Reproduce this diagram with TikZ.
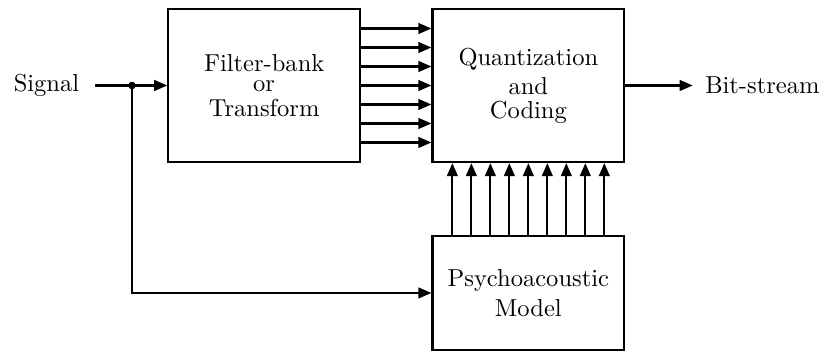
\documentclass[tikz,border=0pt]{standalone}
\usetikzlibrary{arrows.meta}
\begin{document}
\begin{tikzpicture}[line width=0.9pt, >={Triangle[length=5.5pt, width=4.5pt]},
    font=\fontsize{10.3pt}{12.4pt}\selectfont,
    block/.style={draw, align=center, minimum width=2.83cm, minimum height=2.26cm, inner sep=0pt}]
    \useasboundingbox (0, 0) rectangle (12.15, -5.2);

    \node[block] (fb) at (3.9, -1.262) {Filter-bank\\[-3.8pt]or\\[-2pt]Transform};
    \node[block] (qc) at (7.8, -1.262) {Quantization\\and\\[-2.6pt]Coding};
    \node[block, minimum height=1.68cm] (pm) at (7.8, -4.325) {Psychoacoustic\\Model};

    \node[inner xsep=6.4pt] (sig) at (0.686, -1.262) {Signal};
    \node[inner xsep=4.8pt] (bits) at (11.255, -1.262) {Bit-stream};
    \coordinate (split) at (1.948, -1.262);

    \draw[->] (sig.east) -- (fb.west);
    \fill (split) circle (1.6pt);
    \draw[->] (split) |- (pm.west);
    \draw[->] (qc.east) -- (bits.west);

    \foreach \i in {-3,...,3}
      \draw[->] ([yshift=\i*0.2804cm]fb.east) -- ([yshift=\i*0.2804cm]qc.west);
    \foreach \i in {-4,...,4}
      \draw[->] ([xshift=\i*0.2804cm]pm.north) -- ([xshift=\i*0.2804cm]qc.south);
\end{tikzpicture}
\end{document}
